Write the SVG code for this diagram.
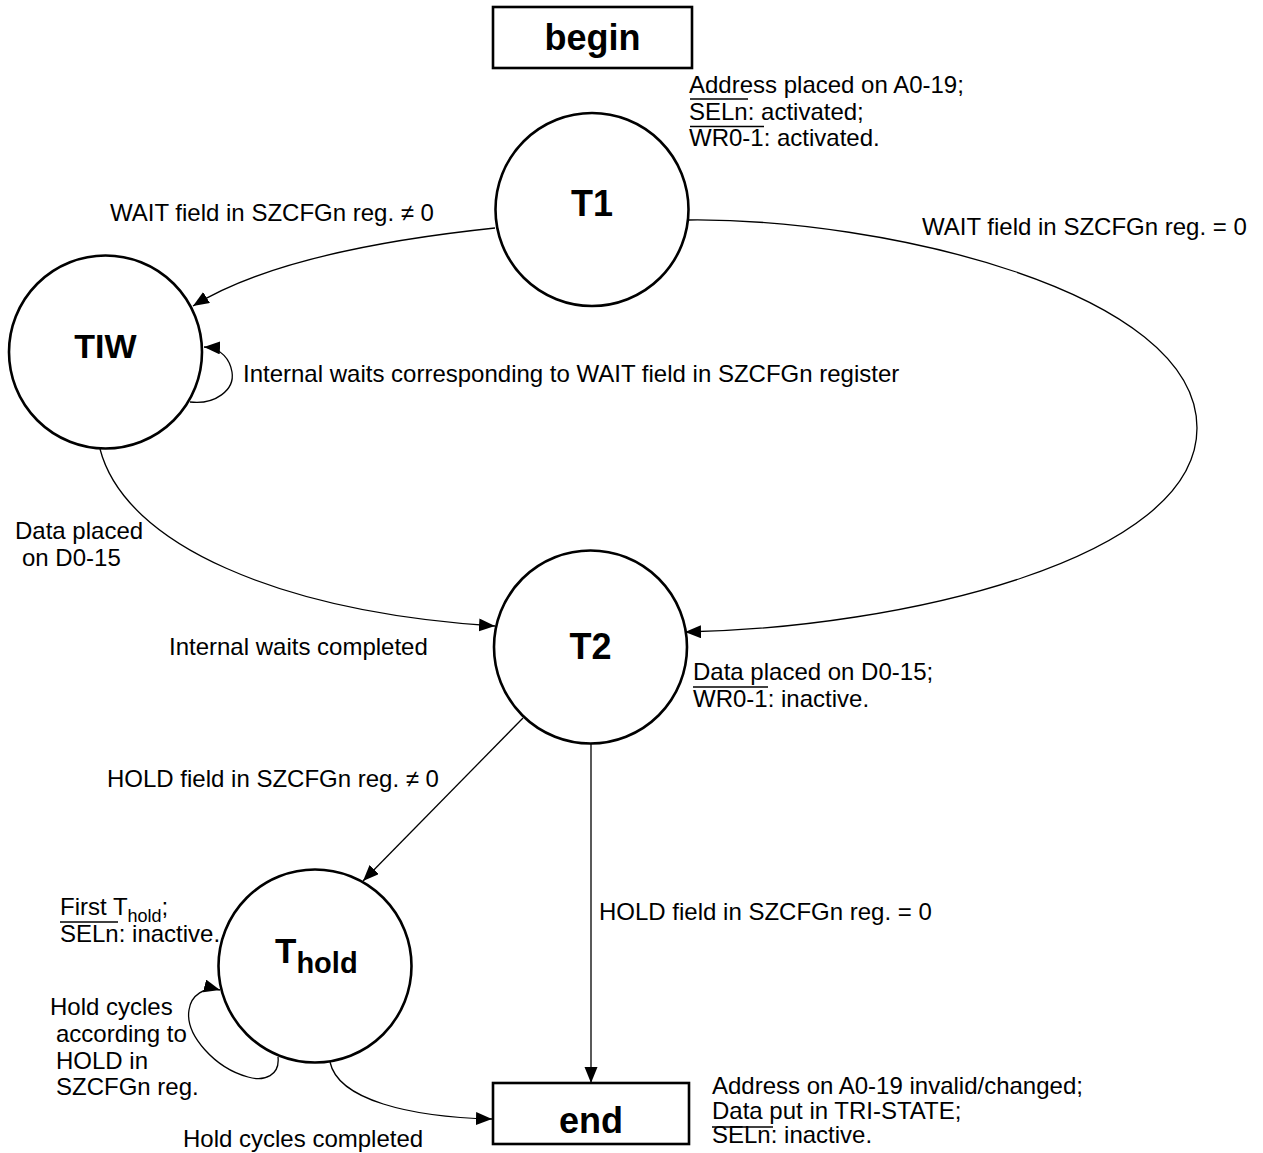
<svg xmlns="http://www.w3.org/2000/svg" width="1263" height="1153" viewBox="0 0 1263 1153">
<defs>
<style>
.node{fill:#fff;stroke:#000;stroke-width:2.6}
.conn{fill:none;stroke:#000;stroke-width:1.3}
.ov{stroke:#000;stroke-width:1.3}
.lbl{font-family:"Liberation Sans",Arial,sans-serif;font-size:24px;fill:#000}
.big{font-family:"Liberation Sans",Arial,sans-serif;font-weight:bold;font-size:36px;fill:#000;text-anchor:middle}
</style>
<marker id="arr" markerUnits="userSpaceOnUse" markerWidth="18" markerHeight="14" refX="16" refY="6.5" orient="auto">
<path d="M0,0 L16,6.5 L0,13 z" fill="#000"/>
</marker>
</defs>
<rect width="1263" height="1153" fill="#fff"/>

<g id="connectors">
<path class="conn" d="M495,228 C400,238 270,258 193,306" marker-end="url(#arr)"/>
<path class="conn" d="M190,402 C215,405 235,390 232,372 C230,360 222,348 204,347" marker-end="url(#arr)"/>
<path class="conn" d="M689,220 C880,218 1197,290 1197,428 C1197,560 900,628 685,632" marker-end="url(#arr)"/>
<path class="conn" d="M100,449 C125,545 280,612 495,626" marker-end="url(#arr)"/>
<path class="conn" d="M523,718 L363,881" marker-end="url(#arr)"/>
<path class="conn" d="M591,743 L591,1083" marker-end="url(#arr)"/>
<path class="conn" d="M278,1057 C280,1075 265,1082 248,1077 C215,1068 185,1035 189,1010 C191,995 205,986 220,990" marker-end="url(#arr)"/>
<path class="conn" d="M330,1062 C338,1100 410,1117 492,1119" marker-end="url(#arr)"/>
</g>

<g id="begin">
<rect class="node" x="493" y="7" width="199" height="61"/>
<text class="big" x="592.5" y="50">begin</text>
</g>

<g id="T1">
<circle class="node" cx="592" cy="209.5" r="96.5"/>
<text class="big" x="592" y="216">T1</text>
</g>

<g id="TIW">
<circle class="node" cx="105.5" cy="352" r="96.5"/>
<text class="big" x="105.5" y="358" style="font-size:34px">TIW</text>
</g>

<g id="T2">
<circle class="node" cx="590.5" cy="647" r="96.5"/>
<text class="big" x="590.5" y="659">T2</text>
</g>

<g id="Thold">
<circle class="node" cx="315" cy="966" r="96.5"/>
<text class="big" x="275" y="963" style="font-size:35px;text-anchor:start">T<tspan style="font-size:29px" dy="10">hold</tspan></text>
</g>

<g id="end">
<rect class="node" x="493" y="1083" width="196" height="61"/>
<text class="big" x="591" y="1133">end</text>
</g>

<g id="labels">
<text class="lbl" x="689" y="93">Address placed on A0-19;</text>
<text class="lbl" x="689" y="120">SELn: activated;</text>
<text class="lbl" x="689" y="146">WR0-1: activated.</text>
<line class="ov" x1="690" y1="99" x2="748" y2="99"/>
<line class="ov" x1="690" y1="126.5" x2="764" y2="126.5"/>

<text class="lbl" x="110" y="221">WAIT field in SZCFGn reg. ≠ 0</text>
<text class="lbl" x="922" y="235">WAIT field in SZCFGn reg. = 0</text>
<text class="lbl" x="243" y="382">Internal waits corresponding to WAIT field in SZCFGn register</text>

<text class="lbl" x="15" y="539">Data placed</text>
<text class="lbl" x="22" y="566">on D0-15</text>
<text class="lbl" x="169" y="655">Internal waits completed</text>

<text class="lbl" x="693" y="680">Data placed on D0-15;</text>
<text class="lbl" x="693" y="707">WR0-1: inactive.</text>
<line class="ov" x1="693" y1="687" x2="768" y2="687"/>

<text class="lbl" x="107" y="787">HOLD field in SZCFGn reg. ≠ 0</text>
<text class="lbl" x="599" y="920">HOLD field in SZCFGn reg. = 0</text>

<text class="lbl" x="60" y="915">First T<tspan style="font-size:18px" dy="7">hold</tspan><tspan dy="-7">;</tspan></text>
<text class="lbl" x="60" y="942">SELn: inactive.</text>
<line class="ov" x1="60" y1="922" x2="118" y2="922"/>

<text class="lbl" x="50" y="1015">Hold cycles</text>
<text class="lbl" x="56" y="1042">according to</text>
<text class="lbl" x="56" y="1069">HOLD in</text>
<text class="lbl" x="56" y="1095">SZCFGn reg.</text>
<text class="lbl" x="183" y="1147">Hold cycles completed</text>

<text class="lbl" x="712" y="1094">Address on A0-19 invalid/changed;</text>
<text class="lbl" x="712" y="1119">Data put in TRI-STATE;</text>
<text class="lbl" x="712" y="1143">SELn: inactive.</text>
<line class="ov" x1="712" y1="1127" x2="773" y2="1127"/>
</g>
</svg>
